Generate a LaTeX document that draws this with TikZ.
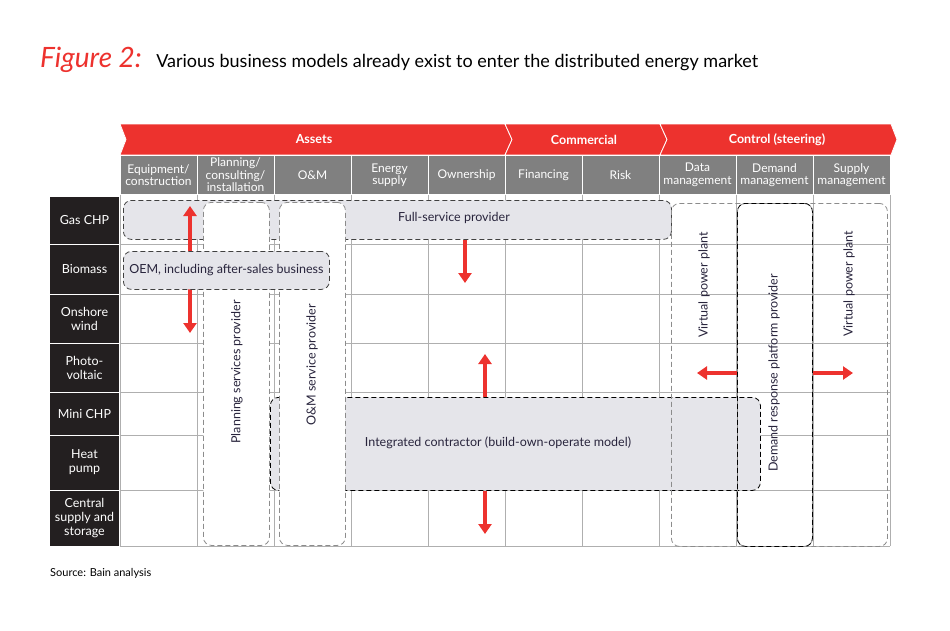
\documentclass[tikz,border=0pt]{standalone}
\usepackage{fontspec}
\setmainfont{Lato}
\usetikzlibrary{positioning,arrows.meta}
\definecolor{bainred}{RGB}{237,50,46}
\definecolor{headgray}{RGB}{128,128,128}
\definecolor{rowblack}{RGB}{35,31,32}
\definecolor{gridgray}{RGB}{175,175,175}
\definecolor{boxfill}{RGB}{229,229,234}
\definecolor{inkgray}{RGB}{40,36,60}
\tikzset{
  colhead/.style={fill=headgray,draw=white,line width=1pt,text=white,minimum width=77pt,
    minimum height=39pt,inner sep=0pt,align=center,font=\fontsize{12}{12.5}\selectfont},
  rowhead/.style={fill=rowblack,draw=white,line width=1pt,text=white,minimum width=70pt,
    inner sep=0pt,align=center,font=\fontsize{12.5}{14}\selectfont},
  band/.style={fill=bainred,draw=white,line width=0.8pt},
  bandtext/.style={text=white,font=\fontsize{12.5}{13}\selectfont\bfseries},
  modelbox/.style={anchor=north west,rounded corners=8pt,line width=0.8pt,dash pattern=on 5pt off 3pt,inner sep=0pt},
  shadedbox/.style={modelbox,draw=black!75,fill=boxfill},
  whitebox/.style={modelbox,draw=black!45,fill=white},
  openbox/.style={modelbox,draw=black!45},
  darkbox/.style={modelbox,draw=black},
  modeltext/.style={text=inkgray,font=\fontsize{12.5}{14}\selectfont},
  redarrow/.style={draw=bainred,line width=3.5pt,-{Triangle[width=13pt,length=10pt]}},
  gridline/.style={draw=gridgray,line width=1pt}
}
\begin{document}
\begin{tikzpicture}[x=1pt,y=-1pt]
\useasboundingbox (0,0) rectangle (950,630);

% title
\node[anchor=base west,inner sep=0pt,text=bainred,font=\fontsize{28}{30}\selectfont\itshape] (fig) at (40,67) {Figure 2:};
\node[anchor=base west,inner sep=0pt,font=\fontsize{18}{20}\selectfont] (title) at ([xshift=14pt]fig.base east)
  {Various business models already exist to enter the distributed energy market};

% red band
\draw[band] (120,124) -- (505,124) -- (512,139.5) -- (505,155) -- (120,155) -- (126,139.5) -- cycle;
\draw[band] (505,124) -- (660,124) -- (667,139.5) -- (660,155) -- (505,155) -- (512,139.5) -- cycle;
\draw[band] (660,124) -- (891,124) -- (897,139.5) -- (891,155) -- (660,155) -- (667,139.5) -- cycle;
\node[bandtext] (assets) at (314,139.5) {Assets};
\node[bandtext] (commercial) at (584,139.5) {Commercial};
\node[bandtext] (control) at (777,139.5) {Control (steering)};

% column heads
\foreach \i/\name/\txt in {0/equip/{Equipment/\\construction},1/planning/{Planning/\\consulting/\\installation},
    2/om/{O\&M},3/energy/{Energy\\supply},4/owner/{Ownership},5/finance/{Financing},6/risk/{Risk},
    7/data/{Data\\management},8/demandm/{Demand\\management},9/supply/{Supply\\management}}
  \node[colhead] (\name) at (158.5+77*\i,175) {\txt};

% grid
\foreach \y in {244,294,343,392,435,490,546}
  \draw[gridline] (120,\y) -- (890,\y);
\foreach \i in {0,...,10}
  \draw[gridline] (120+77*\i,195) -- (120+77*\i,546);

% row heads
\foreach \name/\c/\h/\txt in {gas/220/48/{Gas CHP},bio/269/50/{Biomass},wind/318.5/49/{Onshore\\wind},
    pv/367.5/49/{Photo-\\voltaic},mini/413.5/43/{Mini CHP},heat/462.5/55/{Heat\\pump},
    central/518/56/{Central\\supply and\\storage}}
  \node[rowhead,minimum height=\h pt] (\name) at (84.5,\c) {\txt};

% business models
\node[shadedbox,minimum width=548pt,minimum height=39pt] (full) at (123,200) {};
\node[darkbox,fill=boxfill,minimum width=490pt,minimum height=93pt] (integ) at (270,397) {};
\node[whitebox,minimum width=66pt,minimum height=343pt] (plan) at (203,202) {};
\node[whitebox,minimum width=66pt,minimum height=343pt] (oms) at (279,202) {};

\coordinate (oemtop) at (190,206);
\coordinate (oembot) at (190,333);
\draw[redarrow,{Triangle[width=13pt,length=10pt]}-{Triangle[width=13pt,length=10pt]}] (oemtop) -- (oembot);
\node[shadedbox,minimum width=206pt,minimum height=38pt,modeltext] (oem) at (123,251) {};
\node[modeltext] (oemtext) at (oem.center) {OEM, including after-sales business};

\node[openbox,minimum width=141pt,minimum height=343pt] (vppl) at (671,203) {};
\node[openbox,minimum width=150pt,minimum height=343pt] (vppr) at (737,203) {};
\node[darkbox,minimum width=75pt,minimum height=343pt] (demand) at (737,203) {};

% labels
\node[modeltext] (fulltext) at (454,218) {Full-service provider};
\node[modeltext] (integtext) at (498,443) {Integrated contractor (build-own-operate model)};
\node[modeltext,rotate=90] (plantext) at (237,372) {Planning services provider};
\node[modeltext,rotate=90] (omtext) at (312,365) {O\&M service provider};
\node[modeltext,rotate=90] (vppltext) at (704,285) {Virtual power plant};
\node[modeltext,rotate=90] (vpprtext) at (849,284) {Virtual power plant};
\node[modeltext,rotate=90] (demandtext) at (774,373) {Demand response platform provider};

% arrows
\coordinate (fsdown) at (465,283);
\coordinate (intup) at (485,354);
\coordinate (intdown) at (485,534);
\coordinate (vppleft) at (697,373);
\coordinate (vppright) at (853,373);
\draw[redarrow] (fsdown |- full.south) -- (fsdown);
\draw[redarrow] (intup |- integ.north) -- (intup);
\draw[redarrow] (intdown |- integ.south) -- (intdown);
\draw[redarrow] (demand.west |- vppleft) -- (vppleft);
\draw[redarrow] (demand.east |- vppright) -- (vppright);

% source
\node[anchor=base west,inner sep=0pt,font=\fontsize{11}{13}\selectfont] (source) at (50,576) {Source: Bain analysis};
\end{tikzpicture}
\end{document}
